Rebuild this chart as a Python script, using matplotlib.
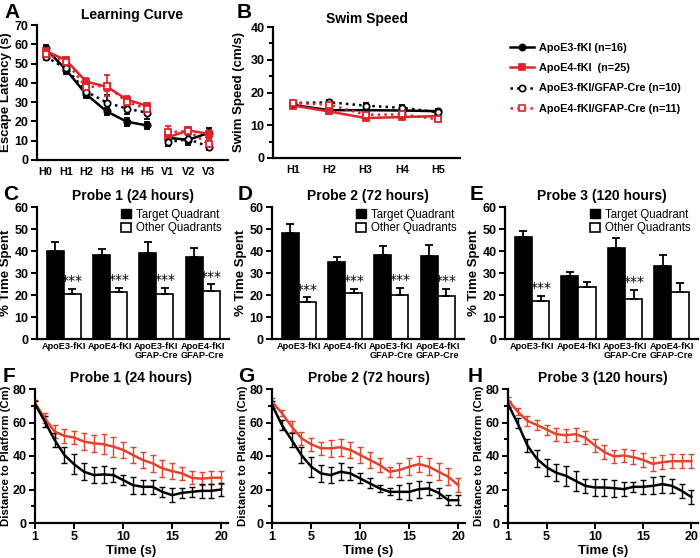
import numpy as np
import matplotlib.pyplot as plt
from matplotlib.lines import Line2D
from matplotlib.patches import Patch
from matplotlib.ticker import MultipleLocator

plt.rcParams['font.family'] = ['Liberation Sans', 'DejaVu Sans']
plt.rcParams['font.weight'] = 'bold'
plt.rcParams['axes.labelweight'] = 'bold'

RED = '#e3232b'
RED2 = '#e8412c'

# ---- panel A: learning curve ----
days = ['H0', 'H1', 'H2', 'H3', 'H4', 'H5', 'V1', 'V2', 'V3']
lat_e3 = [57.9, 46.8, 34.0, 25.2, 19.8, 17.9, 11.5, 10.5, 14.0]
lat_e3_err = [1.5, 2.0, 2.0, 2.0, 2.2, 1.8, 2.5, 2.5, 2.5]
lat_e4 = [56.5, 51.8, 40.6, 38.0, 31.3, 28.0, 11.8, 15.3, 13.6]
lat_e4_err = [2.0, 1.8, 1.8, 2.0, 2.0, 1.5, 2.0, 2.0, 2.0]
lat_e3c = [53.6, 47.5, 35.5, 29.8, 26.6, 24.5, 9.2, 10.8, 7.0]
lat_e3c_err = [2.0, 2.5, 2.5, 4.0, 3.0, 3.0, 2.0, 2.0, 2.0]
lat_e4c = [55.0, 51.0, 37.8, 38.5, 30.0, 26.6, 14.4, 15.0, 8.3]
lat_e4c_err = [3.0, 2.0, 2.0, 5.5, 2.5, 2.0, 3.0, 2.0, 2.0]

# ---- panel B: swim speed ----
hdays = ['H1', 'H2', 'H3', 'H4', 'H5']
spd_e3 = [16.2, 14.6, 14.6, 14.5, 14.3]
spd_e3_err = [0.5, 0.5, 0.8, 0.8, 0.6]
spd_e4 = [16.0, 14.2, 12.2, 12.5, 12.8]
spd_e4_err = [0.5, 0.5, 0.5, 0.5, 0.5]
spd_e3c = [16.8, 17.0, 16.0, 15.3, 14.0]
spd_e3c_err = [0.6, 0.6, 0.9, 0.9, 0.6]
spd_e4c = [16.8, 16.3, 13.2, 13.3, 11.8]
spd_e4c_err = [0.5, 0.5, 0.6, 0.6, 0.6]

# ---- panels C-E: probe trials ----
groups = ['ApoE3-fKI', 'ApoE4-fKI', 'ApoE3-fKI\nGFAP-Cre', 'ApoE4-fKI\nGFAP-Cre']
probe_titles = ['Probe 1 (24 hours)', 'Probe 2 (72 hours)', 'Probe 3 (120 hours)']
target = [[40.2, 38.3, 39.3, 37.2], [48.2, 35.0, 38.2, 37.7], [46.3, 28.5, 41.2, 33.0]]
target_err = [[4.0, 2.7, 4.9, 4.0], [4.1, 2.3, 4.3, 5.0], [2.9, 1.9, 4.8, 5.2]]
other = [[20.3, 21.2, 20.5, 21.7], [16.6, 20.7, 19.9, 19.5], [17.2, 23.5, 18.3, 21.5]]
other_err = [[2.4, 2.1, 2.9, 3.1], [2.4, 2.1, 3.5, 3.2], [2.4, 2.3, 4.1, 4.1]]
signif = [[True, True, True, True], [True, True, True, True], [True, False, True, False]]

# ---- panels F-H: distance to platform ----
t = np.arange(1, 21)
dist_e3 = [
    [71, 60.6, 49.6, 40.6, 35.0, 30.6, 28.6, 29.0, 28.6, 25.6, 22.6, 21.6, 21.6, 18.6, 16.6, 18.0, 18.6, 19.2, 19.2, 20.0],
    [70.6, 58.6, 49.6, 40.6, 33.6, 29.6, 28.6, 30.6, 29.6, 26.6, 23.6, 20.6, 18.6, 18.6, 18.6, 20.2, 20.6, 18.0, 13.6, 13.6],
    [71, 59.5, 46.4, 38.3, 33.3, 30.0, 28.2, 25.2, 22.2, 21.2, 21.2, 20.8, 20.2, 21.6, 21.6, 22.2, 23.2, 22.2, 19.2, 15.6],
]
dist_e3_err = [
    [2, 3, 4, 5, 6, 5, 5, 5, 4, 3, 5, 4, 4, 3, 4, 3, 3, 4, 4, 4],
    [2, 3, 4, 5, 6, 5, 5, 5, 4, 3, 3, 2, 2, 4, 5, 5, 4, 3, 3, 3],
    [2, 3, 4, 5, 5, 5, 6, 6, 4, 5, 5, 5, 4, 3, 4, 5, 5, 4, 4, 4],
]
dist_e4 = [
    [71.6, 62.6, 54.6, 52.0, 51.0, 48.6, 47.6, 47.0, 45.6, 43.6, 40.6, 37.6, 35.6, 32.6, 31.0, 29.6, 27.0, 26.4, 27.0, 27.0],
    [72.6, 65.6, 57.6, 50.6, 47.0, 44.6, 44.6, 45.2, 43.6, 40.6, 37.6, 34.6, 30.6, 31.6, 33.6, 35.2, 33.6, 30.6, 27.6, 22.6],
    [73.5, 66.5, 61.0, 58.5, 55.8, 53.0, 52.4, 53.0, 51.0, 46.4, 42.3, 39.7, 40.3, 39.3, 37.7, 35.3, 36.3, 36.9, 36.9, 36.9],
]
dist_e4_err = [
    [2, 3, 4, 4, 4, 5, 5, 6, 6, 5, 5, 5, 5, 5, 5, 4, 4, 4, 4, 4],
    [2, 2, 3, 4, 4, 4, 5, 5, 5, 5, 5, 4, 3, 4, 5, 5, 5, 5, 5, 4],
    [2, 2, 3, 3, 3, 4, 4, 4, 4, 4, 4, 4, 4, 4, 4, 4, 4, 4, 4, 4],
]

W, H = 700, 558
fig = plt.figure(figsize=(7.0, 5.58), dpi=100)


def box(l, r, top, bot):
    return [l / W, 1 - bot / H, (r - l) / W, (bot - top) / H]


def style(ax):
    for s in ['top', 'right']:
        ax.spines[s].set_visible(False)
    for s in ['left', 'bottom']:
        ax.spines[s].set_linewidth(1.6)
    ax.tick_params(width=1.4, length=4, labelsize=9, pad=2)
    ax.tick_params(which='minor', width=1.4, length=3)


def plabel(x, y, s):
    fig.text(x / W, 1 - y / H, s, fontsize=15, fontweight='bold', ha='left', va='center')


# ---- A ----
axA = fig.add_axes(box(37, 228, 25, 160))
style(axA)
xa = np.arange(len(days))
seg = [slice(0, 6), slice(6, 9)]
series_A = [
    (lat_e3, lat_e3_err, 'k', '-', 'o', 'k', 'ApoE3-fKI (n=16)'),
    (lat_e4, lat_e4_err, RED, '-', 's', RED, 'ApoE4-fKI  (n=25)'),
    (lat_e3c, lat_e3c_err, 'k', ':', 'o', 'white', 'ApoE3-fKI/GFAP-Cre (n=10)'),
    (lat_e4c, lat_e4c_err, RED, ':', 's', 'white', 'ApoE4-fKI/GFAP-Cre (n=11)'),
]
for y, e, c, ls, m, fc, lab in series_A:
    y = np.array(y); e = np.array(e)
    for sl in seg:
        axA.errorbar(xa[sl], y[sl], yerr=e[sl], color=c, ls=ls, lw=1.8, marker=m, ms=4.5,
                     mfc=fc, mec=c, mew=1.3, capsize=2, elinewidth=1.2)
axA.set_xlim(-0.42, 8.95)
axA.set_ylim(0, 70)
axA.set_yticks(range(0, 71, 10))
axA.set_xticks(xa, days)
axA.tick_params(axis='x', length=0, labelsize=7.8, pad=5)
axA.set_ylabel('Escape Latency (s)', fontsize=9.5, labelpad=2)
axA.set_title('Learning Curve', fontsize=10, fontweight='bold', pad=4)

# ---- B ----
axB = fig.add_axes(box(273, 460, 27, 158))
style(axB)
xb = np.arange(len(hdays))
series_B = [
    (spd_e3, spd_e3_err, 'k', '-', 'o', 'k'),
    (spd_e4, spd_e4_err, RED, '-', 's', RED),
    (spd_e3c, spd_e3c_err, 'k', ':', 'o', 'white'),
    (spd_e4c, spd_e4c_err, RED, ':', 's', 'white'),
]
for y, e, c, ls, m, fc in series_B:
    axB.errorbar(xb, y, yerr=e, color=c, ls=ls, lw=1.8, marker=m, ms=4.5,
                 mfc=fc, mec=c, mew=1.3, capsize=2, elinewidth=1.2)
axB.set_xlim(-0.55, 4.6)
axB.set_ylim(0, 40)
axB.set_yticks(range(0, 41, 10))
axB.yaxis.set_minor_locator(MultipleLocator(5))
axB.set_xticks(xb, hdays)
axB.tick_params(axis='x', length=0, labelsize=7.8, pad=5)
axB.set_ylabel('Swim Speed (cm/s)', fontsize=9.5, labelpad=4)
axB.set_title('Swim Speed', fontsize=10, fontweight='bold', pad=3)

# legend for A/B
handles = [Line2D([], [], color=c, ls=ls, lw=1.8, marker=m, ms=4.5, mfc=fc, mec=c, mew=1.2)
           for _, _, c, ls, m, fc, _ in series_A]
labels = [s[6] for s in series_A]
fig.legend(handles, labels, loc='upper left', bbox_to_anchor=(500 / W, 1 - 33 / H), frameon=False,
           prop={'size': 7.8, 'weight': 'bold'},
           handlelength=2.2, labelspacing=0.95, handletextpad=0.5)

# ---- C-E ----
bar_boxes = [(37, 229), (272, 464), (505, 698)]
xg = np.arange(len(groups))
bw = 0.37
for i, (l, r) in enumerate(bar_boxes):
    ax = fig.add_axes(box(l, r, 207, 339))
    style(ax)
    ax.bar(xg - bw / 2, target[i], bw, yerr=[np.zeros(4), target_err[i]], color='k', edgecolor='k',
           lw=1.2, capsize=3, error_kw={'elinewidth': 1.3, 'capthick': 1.3, 'ecolor': 'k'})
    ax.bar(xg + bw / 2, other[i], bw, yerr=[np.zeros(4), other_err[i]], color='white', edgecolor='k',
           lw=1.2, capsize=3, error_kw={'elinewidth': 1.3, 'capthick': 1.3, 'ecolor': 'k'})
    for j in range(4):
        if signif[i][j]:
            ax.text(xg[j] + bw / 2, other[i][j] + other_err[i][j] + 0.3, '***', ha='center', va='bottom',
                    fontsize=10, fontweight='normal', family=['DejaVu Sans'])
    ax.set_xlim(-0.58, 3.57)
    ax.set_ylim(0, 60)
    ax.set_yticks(range(0, 61, 10))
    ax.set_xticks(xg, groups)
    ax.tick_params(axis='x', length=0, labelsize=6.6, pad=2)
    for lbl in ax.get_xticklabels():
        lbl.set_linespacing(1.0)
    ax.set_ylabel('% Time Spent', fontsize=9.5, labelpad=2)
    ax.set_title(probe_titles[i], fontsize=10, fontweight='bold', pad=5)
    ax.legend([Patch(fc='k', ec='k'), Patch(fc='white', ec='k', lw=1.2)],
              ['Target Quadrant', 'Other Quadrants'], loc='upper right', bbox_to_anchor=(1.0, 1.04),
              frameon=False, prop={'size': 8.3, 'weight': 'normal'}, handlelength=0.8, handleheight=0.8,
              handletextpad=0.5, labelspacing=0.15, borderaxespad=0.2)

# ---- F-H ----
line_boxes = [(35, 228), (272, 465), (508, 698)]
for i, (l, r) in enumerate(line_boxes):
    ax = fig.add_axes(box(l, r, 389, 523))
    style(ax)
    ax.errorbar(t, dist_e4[i], yerr=dist_e4_err[i], color=RED2, lw=1.8, capsize=2.5, elinewidth=1.0,
                capthick=1.0)
    ax.errorbar(t, dist_e3[i], yerr=dist_e3_err[i], color='k', lw=1.8, capsize=2.5, elinewidth=1.0,
                capthick=1.0)
    ax.set_xlim(1, 20.7)
    ax.set_ylim(0, 80)
    ax.set_xticks([1, 5, 10, 15, 20])
    ax.set_yticks(range(0, 81, 20))
    ax.yaxis.set_minor_locator(MultipleLocator(10))
    ax.set_xlabel('Time (s)', fontsize=9.5, labelpad=1)
    ax.set_ylabel('Distance to Platform (Cm)', fontsize=8.2, labelpad=1)
    ax.set_title(probe_titles[i], fontsize=10, fontweight='bold', pad=5)

for x, y, s in [(4, 12, 'A'), (237, 12, 'B'), (3, 195, 'C'), (238, 195, 'D'), (470, 195, 'E'),
                (3, 376, 'F'), (238, 376, 'G'), (468, 376, 'H')]:
    plabel(x, y, s)

fig.savefig('out.png', dpi=100)
